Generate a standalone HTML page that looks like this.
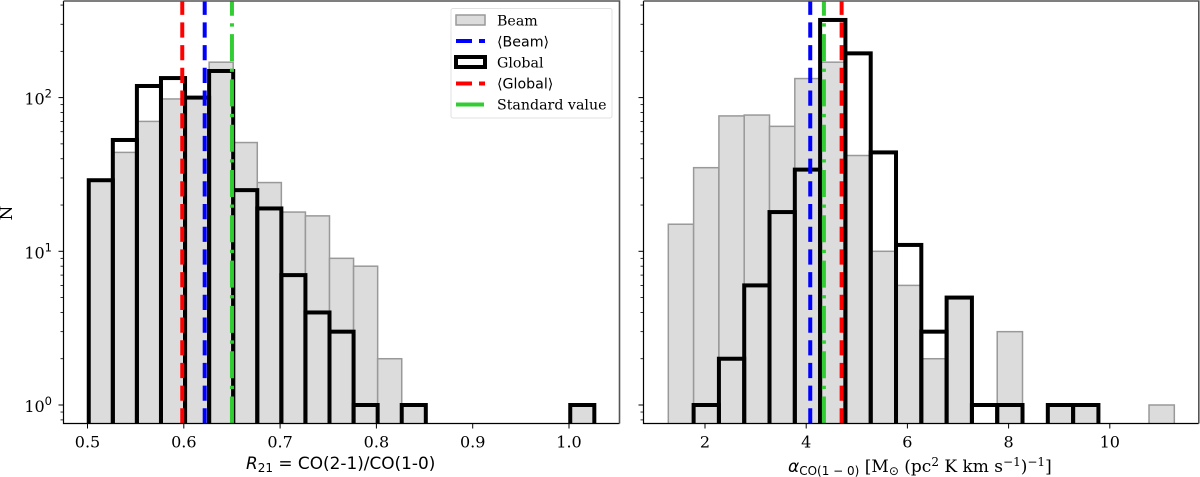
<!DOCTYPE html>
<html>
<head>
<meta charset="utf-8">
<title>CO line ratio and conversion factor histograms</title>
<style>
html,body{margin:0;padding:0;background:#fff;width:1200px;height:477px;overflow:hidden}
svg{display:block}
text{font-family:"DejaVu Serif","Liberation Serif",serif;fill:#000}
.sans{font-family:"DejaVu Sans","Liberation Sans",sans-serif}
</style>
</head>
<body>
<svg id="chart" xmlns="http://www.w3.org/2000/svg" width="1200" height="477" viewBox="0 0 1200 477">
<defs>
<clipPath id="clip-left"><rect x="63.5" y="1" width="556" height="422.5"/></clipPath>
<clipPath id="clip-right"><rect x="643.5" y="1" width="555" height="422.5"/></clipPath>
</defs>
<g id="panel-left"></g>
<g id="panel-right"></g>

<text transform="translate(12,213) rotate(-90)" text-anchor="middle" font-size="17">N</text>
<text x="246" y="469" font-size="16.9" class="sans"><tspan font-style="italic">R</tspan><tspan font-size="12" dy="3">21</tspan><tspan dy="-3"> = CO(2-1)/CO(1-0)</tspan></text>
<text x="788" y="472" font-size="17"><tspan class="sans" font-style="italic">α</tspan><tspan class="sans" font-size="12" dy="3">CO(1 − 0)</tspan><tspan dy="-3"> [M</tspan><tspan class="sans" font-size="12" dy="3">⊙</tspan><tspan dy="-3"> (pc</tspan><tspan font-size="12" dy="-6">2</tspan><tspan dy="6"> K km s</tspan><tspan font-size="12" dy="-6">−1</tspan><tspan dy="6">)</tspan><tspan font-size="12" dy="-6">−1</tspan><tspan dy="6">]</tspan></text>

<g>
<rect x="451" y="8.5" width="161" height="109.5" rx="2" fill="#fff" fill-opacity="0.85" stroke="#e0e0e0" stroke-width="1"/>
<g>
<rect x="456" y="15" width="29" height="10" fill="#dcdcdc" stroke="#999" stroke-width="1.5"/>
<text x="497" y="25.5" font-size="14.2">Beam</text>
</g>
<g>
<path d="M456 41H485" stroke="#0000ff" stroke-width="4" stroke-dasharray="16 7" fill="none"/>
<text class="sans" x="497" y="46.5" font-size="14.2">⟨Beam⟩</text>
</g>
<g>
<rect x="456" y="57" width="29" height="10" fill="#fff" stroke="#000" stroke-width="4"/>
<text x="497" y="67.5" font-size="14.2">Global</text>
</g>
<g>
<path d="M456 83.5H485" stroke="#ff0000" stroke-width="4" stroke-dasharray="16 7" fill="none"/>
<text class="sans" x="497" y="88.5" font-size="14.2">⟨Global⟩</text>
</g>
<g>
<path d="M456 104.5H484" stroke="#32cd32" stroke-width="4" fill="none"/>
<text x="497" y="109.5" font-size="14.2">Standard value</text>
</g>
</g>
</svg>
<script>
// Left panel data: R21 histogram
const leftBinStart = 0.5013;
const leftBinWidth = 0.025;
const leftBeamCounts = [29,44,70,98,100,170,51,28,18,17,9,8,2,1,0,0,0,0,0,0,1];
const leftGlobalCounts = [29,53,119,134,100,149,25,19,7,4,3,1,0,1,0,0,0,0,0,0,1];
const leftTickValues = [0.5,0.6,0.7,0.8,0.9,1.0];
const leftTickLabels = ["0.5","0.6","0.7","0.8","0.9","1.0"];
const leftBeamMean = 0.5984;
const leftGlobalMean = 0.6217;
const leftStandard = 0.65;

// Right panel data: alpha_CO histogram
const rightBinStart = 1.275;
const rightBinWidth = 0.5;
const rightBeamCounts = [15,35,76,77,65,133,170,42,10,6,2,5,0,3,0,1,1,0,0,1];
const rightGlobalCounts = [0,1,2,6,18,34,320,194,44,11,3,5,1,1,0,1,1,0,0,0];
const rightTickValues = [2,4,6,8,10];
const rightTickLabels = ["2","4","6","8","10"];
const rightBeamMean = 4.08;
const rightGlobalMean = 4.70;
const rightStandard = 4.35;

// Shared log axis
const decadeValues = [0,1,2];
const decadeLabels = ["0","1","2"];
const minorMultipliers = [2,3,4,5,6,7,8,9];
const minorDecades = [-1,0,1,2];

const NS = 'http://www.w3.org/2000/svg';
const axisTop = 1, axisBottom = 423.5;
const yScale = function(v){
  return 405 - 153.7 * Math.log10(v);
};
const xLeft = function(v){ return 87.5 + (v - 0.5) * 963; };
const xRight = function(v){ return 705 + (v - 2) * 50.6; };

function make(tag, attrs, parent){
  const el = document.createElementNS(NS, tag);
  for (const k in attrs) el.setAttribute(k, attrs[k]);
  parent.appendChild(el);
  return el;
}

function drawPanel(cfg){
  const g = document.getElementById(cfg.id);
  const plot = make('g', {'clip-path': 'url(#' + cfg.clip + ')'}, g);
  
  

  // Beam bars
  cfg.beam.forEach(function(c, i){
    if (c <= 0) return;
    const x0 = cfg.x(cfg.start + i * cfg.width);
    const x1 = cfg.x(cfg.start + (i + 1) * cfg.width);
    const y = yScale(c);
    const bar = make('rect', {x: x0, y: y, width: x1 - x0, height: axisBottom + 20 - y, fill: '#dcdcdc', stroke: '#999', 'stroke-width': 1.5}, plot);
    
    
  });

  // Global bars: unfilled with heavy black outlines
  cfg.global.forEach(function(c, i){
    if (c <= 0) return;
    const x0 = cfg.x(cfg.start + i * cfg.width);
    const x1 = cfg.x(cfg.start + (i + 1) * cfg.width);
    const y = yScale(c);
    const bar = make('rect', {x: x0, y: y, width: x1 - x0, height: axisBottom + 20 - y, fill: 'none', stroke: '#000', 'stroke-width': 4}, plot);
    
    
  });

  // Reference lines, drawn upward from the x axis
  const lines = [
    {v: cfg.red, color: '#ff0000', dash: '15.2 7.5', name: 'global-mean-line'},
    {v: cfg.blue, color: '#0000ff', dash: '15.2 7.5', name: 'beam-mean-line'},
    {v: cfg.green, color: '#32cd32', dash: '27 7.5 3.3 7.5', name: 'standard-value-line'}
  ];
  lines.forEach(function(l){
    const x = cfg.x(l.v);
    const line = make('line', {x1: x, x2: x, y1: axisBottom, y2: axisTop, stroke: l.color, 'stroke-width': 4, 'stroke-dasharray': l.dash}, plot);
    
    
  });

  // Spines
  const L = cfg.left, R = cfg.right;
  const spines = make('path', {d: 'M' + L + ' ' + axisTop + 'V' + axisBottom + 'H' + R, fill: 'none', stroke: '#000', 'stroke-width': 1.2}, g);
  
  
  const outer = make('path', {d: 'M' + L + ' ' + axisTop + 'H' + R + 'V' + axisBottom, fill: 'none', stroke: '#555', 'stroke-width': 1.6}, g);
  
  

  // X ticks
  cfg.xTicks.forEach(function(v, i){
    const x = cfg.x(v);
    const t = make('line', {x1: x, x2: x, y1: axisBottom, y2: axisBottom + 5, stroke: '#000', 'stroke-width': 1}, g);
    
    
    const lab = make('text', {x: x, y: 447.7, 'text-anchor': 'middle', 'font-size': 16}, g);
    lab.textContent = cfg.xLabels[i];
    
    
  });

  // Y ticks
  decadeValues.forEach(function(p, i){
    const y = yScale(Math.pow(10, p));
    const t = make('line', {x1: L - 5, x2: L, y1: y, y2: y, stroke: '#000', 'stroke-width': 1}, g);
    
    
    if (cfg.yLabels) {
      const lab = make('text', {x: 52, y: y + 7, 'text-anchor': 'end', 'font-size': 16}, g);
      
      
      const base = make('tspan', {}, lab);
      base.textContent = '10';
      const sup = make('tspan', {dy: -7, 'font-size': 11.5, class: 'sans'}, lab);
      sup.textContent = decadeLabels[i];
    }
  });
  minorDecades.forEach(function(p){
    minorMultipliers.forEach(function(m){
      const y = yScale(m * Math.pow(10, p));
      if (y < axisTop || y > axisBottom) return;
      const t = make('line', {x1: L - 3, x2: L, y1: y, y2: y, stroke: '#000', 'stroke-width': 0.8}, g);
      
      
    });
  });
}

drawPanel({id: 'panel-left', clip: 'clip-left', x: xLeft, left: 63.5, right: 619.5,
  start: leftBinStart, width: leftBinWidth, beam: leftBeamCounts, global: leftGlobalCounts,
  red: leftBeamMean, blue: leftGlobalMean, green: leftStandard,
  xTicks: leftTickValues, xLabels: leftTickLabels, yLabels: true});
drawPanel({id: 'panel-right', clip: 'clip-right', x: xRight, left: 643.5, right: 1198.8,
  start: rightBinStart, width: rightBinWidth, beam: rightBeamCounts, global: rightGlobalCounts,
  red: rightGlobalMean, blue: rightBeamMean, green: rightStandard,
  xTicks: rightTickValues, xLabels: rightTickLabels, yLabels: false});
</script>
</body>
</html>
